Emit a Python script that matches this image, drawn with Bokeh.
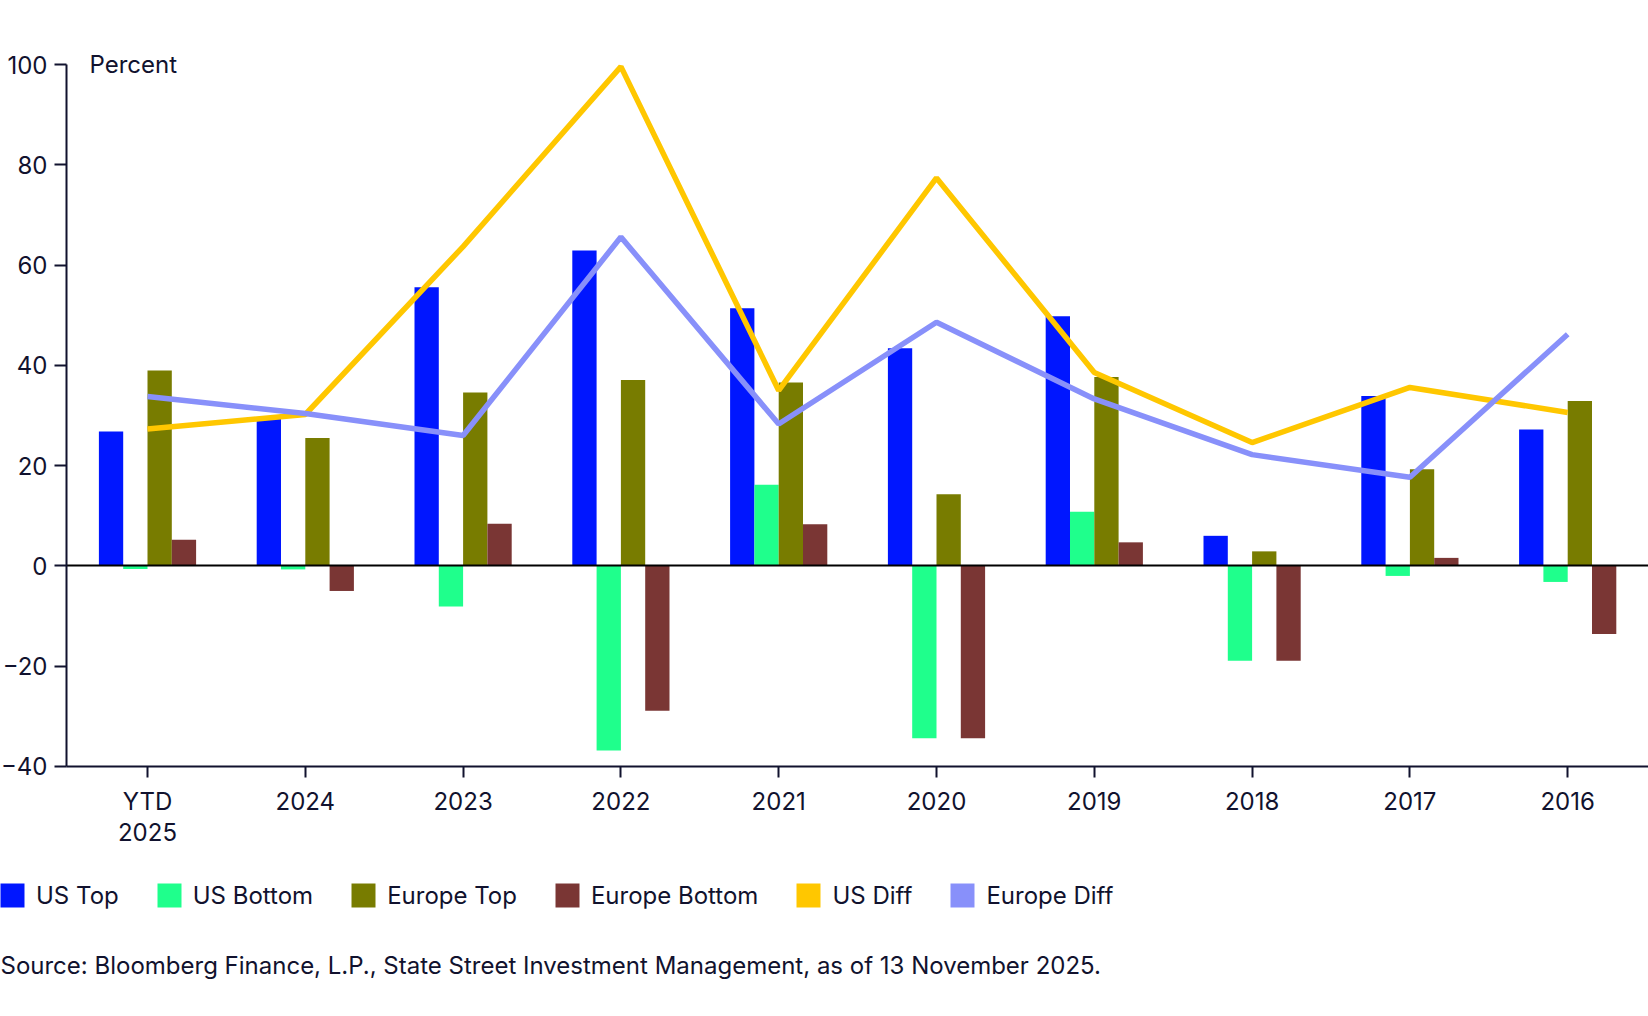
from bokeh.plotting import figure
from bokeh.models import (ColumnDataSource, Range1d, Label, Legend, LegendItem,
                          FixedTicker, LinearAxis)
from bokeh.transform import dodge
from bokeh.embed import file_html
from bokeh.resources import INLINE

categories = ["YTD\n2025", "2024", "2023", "2022", "2021", "2020", "2019", "2018", "2017", "2016"]
us_top = [26.8, 29.5, 55.6, 62.9, 51.4, 43.4, 49.8, 6.0, 33.9, 27.2]
us_bottom = [-0.6, -0.7, -8.1, -36.8, 16.2, -34.4, 10.8, -18.9, -2.0, -3.2]
europe_top = [39.0, 25.5, 34.6, 37.1, 36.6, 14.3, 37.7, 2.9, 19.3, 32.9]
europe_bottom = [5.2, -5.0, 8.4, -28.9, 8.3, -34.4, 4.7, -18.9, 1.6, -13.6]
us_diff = [27.3, 30.2, 63.7, 99.6, 35.0, 77.4, 38.6, 24.6, 35.6, 30.6]
europe_diff = [33.8, 30.4, 26.0, 65.6, 28.3, 48.6, 33.3, 22.2, 17.7, 46.2]
y_ticks = [-40, -20, 0, 20, 40, 60, 80, 100]
series_labels = ["US Top", "US Bottom", "Europe Top", "Europe Bottom", "US Diff", "Europe Diff"]
source_note = "Source: Bloomberg Finance, L.P., State Street Investment Management, as of 13 November 2025."

FONT = "Inter"
FS = "24px"
INK = "#11122e"
series_colors = ["#0016ff", "#1fff8c", "#787c00", "#7a3634", "#ffc700", "#8890fa"]

idx = list(range(len(categories)))
src = ColumnDataSource(dict(x=idx, us_top=us_top, us_bottom=us_bottom,
                            europe_top=europe_top, europe_bottom=europe_bottom,
                            us_diff=us_diff, europe_diff=europe_diff))

# layout geometry (pixels); the whole canvas is the plot frame
W, H = 1648, 1012
UNIT_X = 157.8            # px per category
UNIT_Y = 5.013            # px per percent
X0_PX = 147.0             # first category centre from canvas left
Y100_PX = 64.1            # y=100 from canvas top
YAXIS_PX = 66.0           # y axis from canvas left

x_start = -X0_PX / UNIT_X
x_end = x_start + W / UNIT_X
y_end = 100 + Y100_PX / UNIT_Y
y_start = y_end - H / UNIT_Y
yaxis_at = x_start + YAXIS_PX / UNIT_X

p = figure(x_range=Range1d(x_start, x_end), y_range=Range1d(y_start, y_end),
           width=W, height=H, output_backend="svg", toolbar_location=None,
           x_axis_location=None, y_axis_location=None, min_border=0,
           min_border_left=0, min_border_right=0, min_border_top=0, min_border_bottom=0)
p.outline_line_color = None
p.grid.visible = False

bw = 0.154
offs = [-1.5 * bw, -0.5 * bw, 0.5 * bw, 1.5 * bw]
bars = []
for off, col, c in zip(offs, ["us_top", "us_bottom", "europe_top", "europe_bottom"], series_colors[:4]):
    bars.append(p.vbar(x=dodge("x", off, range=p.x_range), top=col, bottom=0, width=bw,
                       source=src, fill_color=c, line_color=None))

# zero line drawn as an unlabeled axis at y = 0
zero_axis = LinearAxis(fixed_location=0, bounds=(yaxis_at, x_end), ticker=FixedTicker(ticks=[]),
                       axis_line_color="black", axis_line_width=2,
                       major_label_text_font_size="0px", major_tick_line_color=None,
                       minor_tick_line_color=None)
p.add_layout(zero_axis, "below")

p.line(x="x", y="us_diff", source=src, line_color=series_colors[4], line_width=5.5)
p.line(x="x", y="europe_diff", source=src, line_color=series_colors[5], line_width=5.5)
# zero-width bars carrying the diff series, used as square legend swatches
sw5 = p.vbar(x="x", top="us_diff", bottom=0, width=0, source=src,
             fill_color=series_colors[4], line_color=None)
sw6 = p.vbar(x="x", top="europe_diff", bottom=0, width=0, source=src,
             fill_color=series_colors[5], line_color=None)

# category (x) axis
xaxis = LinearAxis(fixed_location=-40, bounds=(yaxis_at, x_end), ticker=FixedTicker(ticks=idx),
                   major_label_overrides={i: c for i, c in zip(idx, categories)})
yaxis = LinearAxis(fixed_location=yaxis_at, bounds=(-40, 100), ticker=FixedTicker(ticks=y_ticks))
for ax in (xaxis, yaxis):
    ax.axis_line_color = INK
    ax.axis_line_width = 2
    ax.major_tick_line_color = INK
    ax.major_tick_line_width = 2
    ax.minor_tick_line_color = None
    ax.major_label_text_font = FONT
    ax.major_label_text_font_size = FS
    ax.major_label_text_color = INK
    ax.major_tick_in = 0
xaxis.major_tick_out = 11
xaxis.major_label_standoff = 10
xaxis.major_label_text_line_height = 1.04
yaxis.major_tick_out = 12
yaxis.major_label_standoff = 7
p.add_layout(xaxis, "below")
p.add_layout(yaxis, "left")

p.add_layout(Label(x=89, y=100, x_units="screen", y_units="data", text="Percent",
                   text_baseline="middle", text_font=FONT, text_font_size=FS,
                   text_color=INK))

legend = Legend(items=[LegendItem(label=l, renderers=[r])
                       for l, r in zip(series_labels, bars + [sw5, sw6])],
                orientation="horizontal", location=(-3, H - 895 - 15),
                glyph_width=30, glyph_height=30, label_standoff=9, spacing=35,
                padding=0, margin=0, border_line_color=None, background_fill_alpha=0,
                label_text_font=FONT, label_text_font_size=FS, label_text_color=INK,
                label_height=30)
p.add_layout(legend)
p.add_layout(Label(x=0, y=H - 965, x_units="screen", y_units="screen", text=source_note,
                   text_baseline="middle", text_font=FONT, text_font_size=FS,
                   text_color=INK))

open("out.html", "w").write(file_html(p, INLINE))
